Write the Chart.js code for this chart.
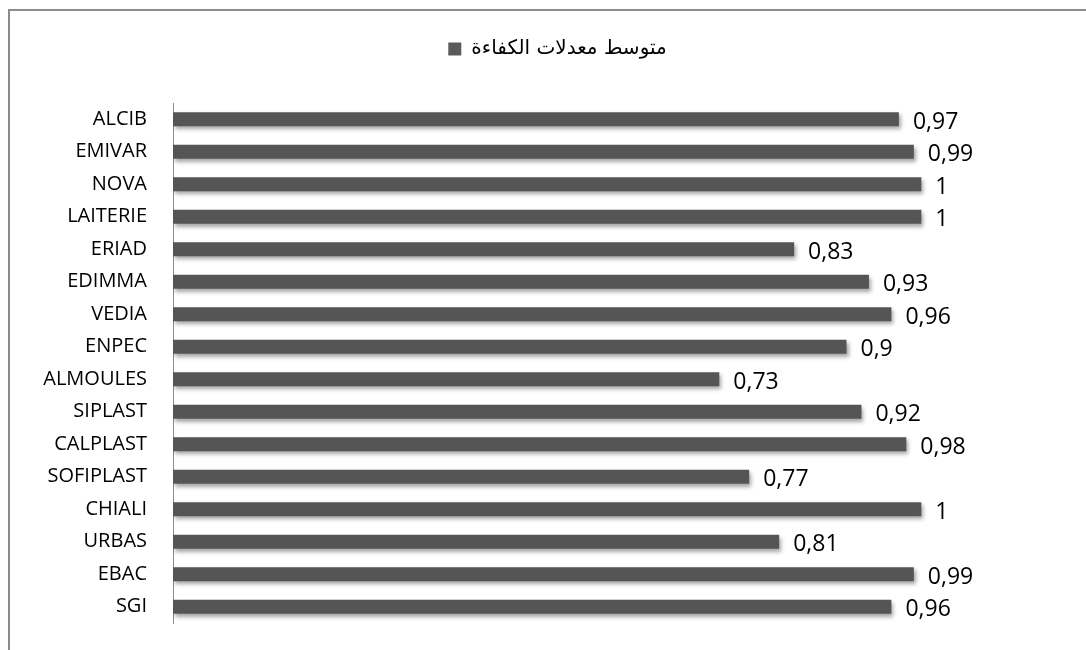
<!DOCTYPE html>
<html><head><meta charset="utf-8">
<script src="https://cdn.jsdelivr.net/npm/chart.js@4.4.0/dist/chart.umd.min.js"></script>
<style>
html,body{margin:0;padding:0;background:#fff;}
#wrap{position:relative;width:1086px;height:650px;overflow:hidden;}
#frame{position:absolute;left:8px;top:9px;width:1200px;height:800px;border:2px solid #8c8c8c;box-sizing:border-box;}
canvas{position:absolute;left:0;top:0;}
</style></head>
<body><div id="wrap"><div id="frame"></div><canvas id="c" width="1086" height="650"></canvas></div>
<script>
const categories = ["ALCIB","EMIVAR","NOVA","LAITERIE","ERIAD","EDIMMA","VEDIA","ENPEC","ALMOULES","SIPLAST","CALPLAST","SOFIPLAST","CHIALI","URBAS","EBAC","SGI"];
const values = [0.97,0.99,1,1,0.83,0.93,0.96,0.9,0.73,0.92,0.98,0.77,1,0.81,0.99,0.96];
const seriesName = "متوسط معدلات الكفاءة";

const legendGap = {
  id:'legendGap',
  beforeLayout(chart){
    const lg = chart.legend;
    if (lg && !lg._patched){
      const orig = lg.fit;
      lg.fit = function(){ orig.call(this); this.height += 34; };
      lg._patched = true;
    }
  },
  afterLayout(chart){
    const lg = chart.legend;
    if (lg){ lg.left += 22; lg.right += 22; }
  }
};
const shadowPlugin = {
  id:'shadow',
  beforeDatasetDraw(chart){ const c=chart.ctx; c.save(); c.shadowColor='rgba(0,0,0,0.35)'; c.shadowOffsetX=2; c.shadowOffsetY=3; c.shadowBlur=4; },
  afterDatasetDraw(chart){ chart.ctx.restore(); }
};
const labelPlugin = {
  id:'vals',
  afterDatasetsDraw(chart){
    const c=chart.ctx; const meta=chart.getDatasetMeta(0);
    c.save(); c.font='23px "Open Sans", sans-serif'; c.fillStyle='#000'; c.textAlign='left'; c.textBaseline='middle';
    meta.data.forEach((b,i)=>{ c.fillText(String(values[i]).replace('.',','), b.x+14, b.y+3); });
    c.restore();
  }
};
new Chart(document.getElementById('c'),{
  type:'bar',
  data:{labels:categories,datasets:[{label:seriesName,data:values,
    backgroundColor:'#555555',
    borderWidth:0,barPercentage:0.43,categoryPercentage:1}]},
  options:{
    indexAxis:'y',responsive:false,animation:false,
    layout:{padding:{left:0,right:15,top:0,bottom:27}},
    plugins:{
      legend:{display:true,position:'top',align:'center',
        labels:{font:{family:'"DejaVu Sans", sans-serif',size:20},color:'#000',boxWidth:13,boxHeight:13,padding:39,
          generateLabels:(ch)=>[{text:seriesName,fillStyle:'#5a5a5a',strokeStyle:'#5a5a5a',lineWidth:0,datasetIndex:0}]}},
      tooltip:{enabled:false}
    },
    scales:{
      x:{display:false,min:0,max:1.2},
      y:{grid:{display:false,drawTicks:true,tickLength:26,tickColor:'rgba(0,0,0,0)'},border:{display:true,color:'#8c8c8c',width:1},
        ticks:{color:'#000',font:{family:'"Open Sans", sans-serif',size:20},padding:0},
        afterFit:(s)=>{s.width=173;}}
    }
  },
  plugins:[legendGap,shadowPlugin,labelPlugin]
});
</script></body></html>
